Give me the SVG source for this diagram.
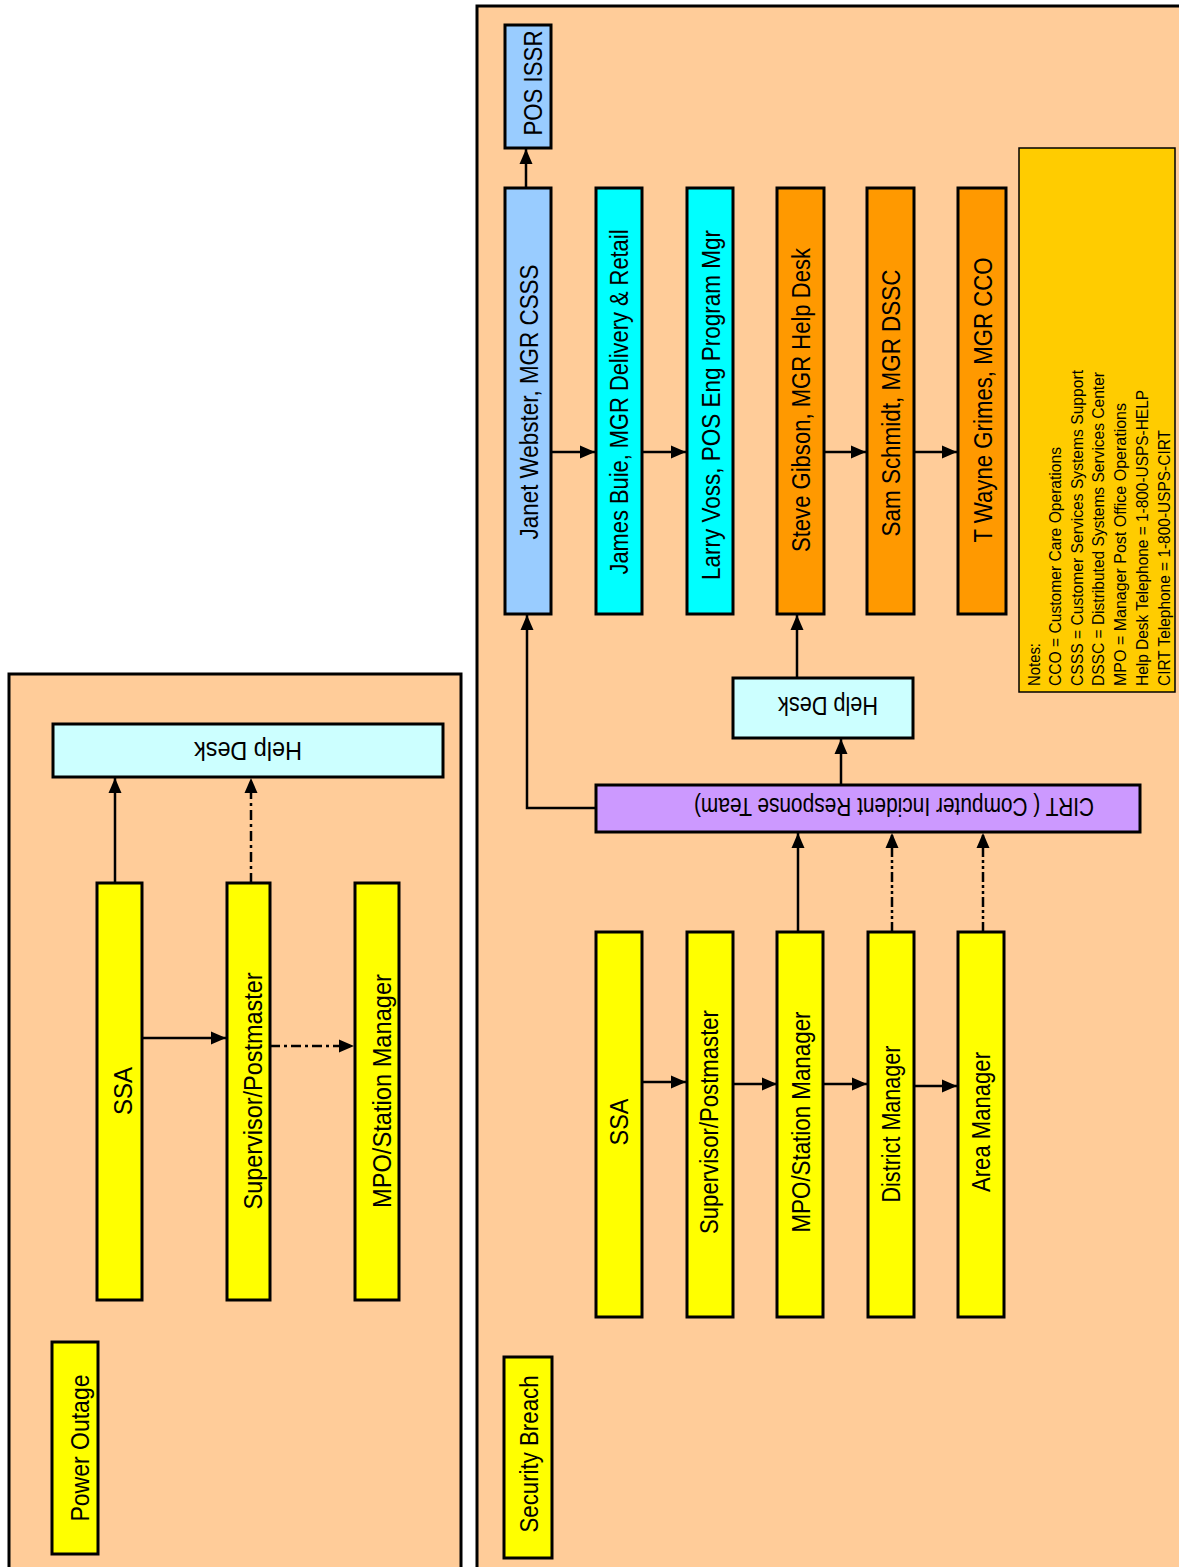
<svg xmlns="http://www.w3.org/2000/svg" width="1179" height="1567" viewBox="0 0 1179 1567">
<style>
.panel{fill:#FFCC99;stroke:#000;stroke-width:3}
.n{stroke:#000;stroke-width:3}
.y{fill:#FFFF00}.lc{fill:#CCFFFF}.c{fill:#00FFFF}.lb{fill:#99CCFF}.o{fill:#FF9900}.p{fill:#CC99FF}
.t{font-family:"Liberation Sans",Arial,sans-serif;font-size:25px;fill:#000}
.nt{font-family:"Liberation Sans",Arial,sans-serif;font-size:17px;fill:#000}
.e{fill:none;stroke:#000;stroke-width:2.5}
</style>
<defs>
<marker id="ah" markerWidth="16" markerHeight="16" refX="15" refY="8" orient="auto" markerUnits="userSpaceOnUse"><path d="M0,1.5 L15,8 L0,14.5 z" fill="#000"/></marker>
</defs>
<rect width="1179" height="1567" fill="#fff"/>
<g id="panel-power"><rect class="panel" x="9" y="674" width="452" height="920"/></g>
<g id="panel-security"><rect class="panel" x="477" y="6" width="740" height="1600"/></g>

<g id="connectors">
<line class="e" x1="115" y1="883" x2="115" y2="778" marker-end="url(#ah)"/>
<line class="e" x1="251" y1="883" x2="251" y2="778" stroke-width="3" stroke-dasharray="10,4,3,4" marker-end="url(#ah)"/>
<line class="e" x1="138" y1="1038" x2="226" y2="1038" marker-end="url(#ah)"/>
<line class="e" x1="270" y1="1046" x2="354" y2="1046" stroke-width="3" stroke-dasharray="10,4,3,4" marker-end="url(#ah)"/>
<line class="e" x1="526" y1="188" x2="526" y2="149" stroke-width="3" marker-end="url(#ah)"/>
<line class="e" x1="551" y1="452" x2="595" y2="452" stroke-width="3" marker-end="url(#ah)"/>
<line class="e" x1="642" y1="452" x2="686" y2="452" stroke-width="3" marker-end="url(#ah)"/>
<line class="e" x1="824" y1="452" x2="866" y2="452" stroke-width="3" marker-end="url(#ah)"/>
<line class="e" x1="914" y1="452" x2="957" y2="452" stroke-width="3" marker-end="url(#ah)"/>
<line class="e" x1="797" y1="678" x2="797" y2="615" stroke-width="4" marker-end="url(#ah)"/>
<line class="e" x1="841" y1="785" x2="841" y2="739" stroke-width="3.5" marker-end="url(#ah)"/>
<polyline class="e" points="596,808 527,808 527,615" marker-end="url(#ah)"/>
<line class="e" x1="642" y1="1082" x2="686" y2="1082" stroke-width="3" marker-end="url(#ah)"/>
<line class="e" x1="733" y1="1084" x2="777" y2="1084" stroke-width="3" marker-end="url(#ah)"/>
<line class="e" x1="823" y1="1084" x2="867" y2="1084" stroke-width="3" marker-end="url(#ah)"/>
<line class="e" x1="914" y1="1086" x2="957" y2="1086" stroke-width="3" marker-end="url(#ah)"/>
<line class="e" x1="798" y1="932" x2="798" y2="833" stroke-width="4" marker-end="url(#ah)"/>
<line class="e" x1="892" y1="932" x2="892" y2="833" stroke-width="4" stroke-dasharray="10,3,3,3,3,3" marker-end="url(#ah)"/>
<line class="e" x1="983" y1="932" x2="983" y2="833" stroke-width="2.5" stroke-dasharray="10,3,3,3,3,3" marker-end="url(#ah)"/>
</g>

<g id="po-helpdesk"><rect class="n lc" x="53" y="724" width="390" height="53"/>
<text class="t" text-anchor="middle" textLength="108" lengthAdjust="spacingAndGlyphs" transform="translate(248,742) rotate(180)">Help Desk</text></g>
<g id="po-ssa"><rect class="n y" x="97" y="883" width="45" height="417"/>
<text class="t" text-anchor="middle" textLength="48" lengthAdjust="spacingAndGlyphs" transform="translate(132,1091) rotate(-90)">SSA</text></g>
<g id="po-supervisor"><rect class="n y" x="227" y="883" width="43" height="417"/>
<text class="t" text-anchor="middle" textLength="237" lengthAdjust="spacingAndGlyphs" transform="translate(262,1091) rotate(-90)">Supervisor/Postmaster</text></g>
<g id="po-mpo"><rect class="n y" x="355" y="883" width="44" height="417"/>
<text class="t" text-anchor="middle" textLength="234" lengthAdjust="spacingAndGlyphs" transform="translate(391,1091) rotate(-90)">MPO/Station Manager</text></g>
<g id="po-title"><rect class="n y" x="52" y="1342" width="46" height="212" stroke-width="4"/>
<text class="t" text-anchor="middle" textLength="147" lengthAdjust="spacingAndGlyphs" transform="translate(89,1448) rotate(-90)">Power Outage</text></g>

<g id="sb-posissr"><rect class="n lb" x="505" y="25" width="46" height="123"/>
<text class="t" text-anchor="middle" textLength="105" lengthAdjust="spacingAndGlyphs" transform="translate(542,83) rotate(-90)">POS ISSR</text></g>
<g id="sb-janet"><rect class="n lb" x="505" y="188" width="46" height="426"/>
<text class="t" text-anchor="middle" textLength="275" lengthAdjust="spacingAndGlyphs" transform="translate(538,402) rotate(-90)">Janet Webster, MGR CSSS</text></g>
<g id="sb-james"><rect class="n c" x="596" y="188" width="46" height="426"/>
<text class="t" text-anchor="middle" textLength="345" lengthAdjust="spacingAndGlyphs" transform="translate(628,402) rotate(-90)">James Buie, MGR Delivery &amp; Retail</text></g>
<g id="sb-larry"><rect class="n c" x="687" y="188" width="46" height="426"/>
<text class="t" text-anchor="middle" textLength="350" lengthAdjust="spacingAndGlyphs" transform="translate(720,405) rotate(-90)">Larry Voss, POS Eng Program Mgr</text></g>
<g id="sb-steve"><rect class="n o" x="777" y="188" width="47" height="426"/>
<text class="t" text-anchor="middle" textLength="304" lengthAdjust="spacingAndGlyphs" transform="translate(810,400) rotate(-90)">Steve Gibson, MGR Help Desk</text></g>
<g id="sb-sam"><rect class="n o" x="867" y="188" width="47" height="426"/>
<text class="t" text-anchor="middle" textLength="267" lengthAdjust="spacingAndGlyphs" transform="translate(900,403) rotate(-90)">Sam Schmidt, MGR DSSC</text></g>
<g id="sb-grimes"><rect class="n o" x="958" y="188" width="48" height="426"/>
<text class="t" text-anchor="middle" textLength="285" lengthAdjust="spacingAndGlyphs" transform="translate(992,400) rotate(-90)">T Wayne Grimes, MGR CCO</text></g>
<g id="sb-notes"><rect x="1019" y="148" width="156" height="544" fill="#FFCC00" stroke="#000" stroke-width="1.5"/>
<text class="nt" textLength="43" lengthAdjust="spacingAndGlyphs" transform="translate(1040,686) rotate(-90)">Notes:</text>
<text class="nt" textLength="239" lengthAdjust="spacingAndGlyphs" transform="translate(1061,686) rotate(-90)">CCO = Customer Care Operations</text>
<text class="nt" textLength="316" lengthAdjust="spacingAndGlyphs" transform="translate(1083,686) rotate(-90)">CSSS = Customer Services Systems Support</text>
<text class="nt" textLength="314" lengthAdjust="spacingAndGlyphs" transform="translate(1104,686) rotate(-90)">DSSC = Distributed Systems Services Center</text>
<text class="nt" textLength="283" lengthAdjust="spacingAndGlyphs" transform="translate(1126,686) rotate(-90)">MPO = Manager Post Office Operations</text>
<text class="nt" textLength="296" lengthAdjust="spacingAndGlyphs" transform="translate(1148,686) rotate(-90)">Help Desk Telephone = 1-800-USPS-HELP</text>
<text class="nt" textLength="256" lengthAdjust="spacingAndGlyphs" transform="translate(1170,686) rotate(-90)">CIRT Telephone = 1-800-USPS-CIRT</text></g>
<g id="sb-helpdesk"><rect class="n lc" x="733" y="678" width="180" height="60"/>
<text class="t" text-anchor="middle" textLength="100" lengthAdjust="spacingAndGlyphs" transform="translate(828,697) rotate(180)">Help Desk</text></g>
<g id="sb-cirt"><rect class="n p" x="596" y="785" width="544" height="47"/>
<text class="t" text-anchor="middle" textLength="400" lengthAdjust="spacingAndGlyphs" transform="translate(894,798) rotate(180)">CIRT ( Computer Incident Response Team)</text></g>
<g id="sb-ssa"><rect class="n y" x="596" y="932" width="46" height="385"/>
<text class="t" text-anchor="middle" textLength="47" lengthAdjust="spacingAndGlyphs" transform="translate(628,1122) rotate(-90)">SSA</text></g>
<g id="sb-supervisor"><rect class="n y" x="687" y="932" width="46" height="385"/>
<text class="t" text-anchor="middle" textLength="224" lengthAdjust="spacingAndGlyphs" transform="translate(718,1122) rotate(-90)">Supervisor/Postmaster</text></g>
<g id="sb-mpo"><rect class="n y" x="777" y="932" width="46" height="385"/>
<text class="t" text-anchor="middle" textLength="221" lengthAdjust="spacingAndGlyphs" transform="translate(810,1122) rotate(-90)">MPO/Station Manager</text></g>
<g id="sb-district"><rect class="n y" x="868" y="932" width="46" height="385"/>
<text class="t" text-anchor="middle" textLength="157" lengthAdjust="spacingAndGlyphs" transform="translate(900,1124) rotate(-90)">District Manager</text></g>
<g id="sb-area"><rect class="n y" x="958" y="932" width="46" height="385"/>
<text class="t" text-anchor="middle" textLength="140" lengthAdjust="spacingAndGlyphs" transform="translate(990,1122) rotate(-90)">Area Manager</text></g>
<g id="sb-title"><rect class="n y" x="504" y="1357" width="48" height="201" stroke-width="4"/>
<text class="t" text-anchor="middle" textLength="157" lengthAdjust="spacingAndGlyphs" transform="translate(538,1454) rotate(-90)">Security Breach</text></g>
</svg>
